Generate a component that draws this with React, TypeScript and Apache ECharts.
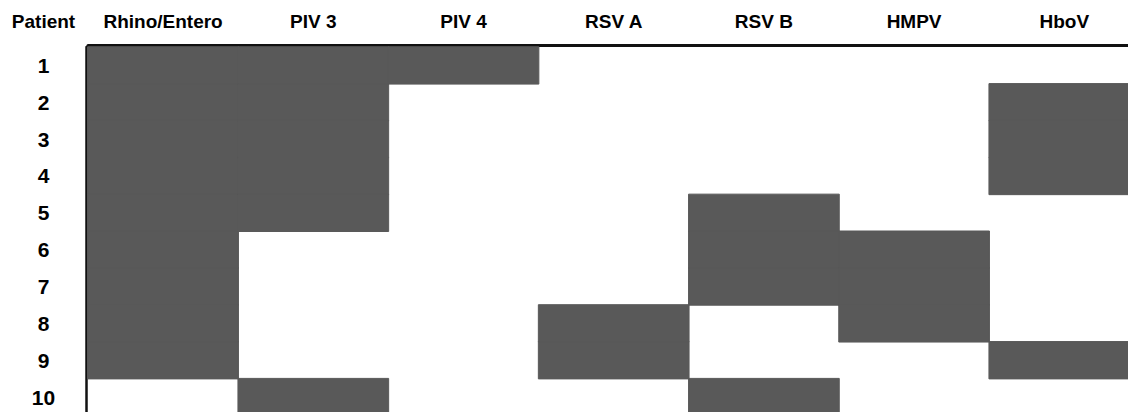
import React, { useEffect, useRef } from "react";
import * as echarts from "echarts";

const patients = ["1", "2", "3", "4", "5", "6", "7", "8", "9", "10"];
const viruses = ["Rhino/Entero", "PIV 3", "PIV 4", "RSV A", "RSV B", "HMPV", "HboV"];

// 1 = positive, 0 = negative, per patient 1..10
const rhinoEntero = [1, 1, 1, 1, 1, 1, 1, 1, 1, 0];
const piv3 = [1, 1, 1, 1, 1, 0, 0, 0, 0, 1];
const piv4 = [1, 0, 0, 0, 0, 0, 0, 0, 0, 0];
const rsvA = [0, 0, 0, 0, 0, 0, 0, 1, 1, 0];
const rsvB = [0, 0, 0, 0, 1, 1, 1, 0, 0, 1];
const hmpv = [0, 0, 0, 0, 0, 1, 1, 1, 0, 0];
const hbov = [0, 1, 1, 1, 0, 0, 0, 0, 1, 0];

const columns = [rhinoEntero, piv3, piv4, rsvA, rsvB, hmpv, hbov];

const FONT = "'Liberation Sans', Arial, Helvetica, sans-serif";
const FILL = "#595959";

export default function App() {
  const ref = useRef<HTMLDivElement>(null);

  useEffect(() => {
    if (!ref.current) return;
    const chart = echarts.init(ref.current, undefined, { renderer: "svg" });

    const data: [number, number, number][] = [];
    columns.forEach((col, xi) => {
      col.forEach((v, yi) => {
        if (v) data.push([xi, yi, v]);
      });
    });

    chart.setOption({
      animation: false,
      backgroundColor: "#ffffff",
      grid: {
        left: 88,
        top: 47,
        width: 1051.4,
        height: 368.5,
        containLabel: false,
      },
      xAxis: {
        type: "category",
        data: viruses,
        position: "top",
        offset: 2,
        axisLine: { show: true, lineStyle: { color: "#111", width: 3 } },
        axisTick: { show: false },
        splitLine: { show: false },
        axisLabel: {
          interval: 0,
          margin: 24,
          verticalAlign: "middle",
          color: "#000",
          fontFamily: FONT,
          fontWeight: "bold",
          fontSize: 19,
        },
      },
      yAxis: {
        type: "category",
        data: patients,
        inverse: true,
        offset: 2,
        axisLine: { show: true, lineStyle: { color: "#111", width: 2.5 } },
        axisTick: { show: false },
        splitLine: { show: false },
        axisLabel: {
          interval: 0,
          margin: 42.5,
          align: "center",
          color: "#000",
          fontFamily: FONT,
          fontWeight: "bold",
          fontSize: 21,
        },
      },
      visualMap: {
        type: "piecewise",
        show: false,
        dimension: 2,
        pieces: [{ value: 1, color: FILL }],
      },
      graphic: [
        {
          type: "text",
          x: 43.5,
          y: 21,
          style: {
            text: "Patient",
            align: "center",
            verticalAlign: "middle",
            fill: "#000",
            font: `bold 19px ${FONT}`,
          },
        },
      ],
      series: [
        {
          type: "heatmap",
          data,
          itemStyle: { color: FILL, borderColor: FILL, borderWidth: 1 },
          emphasis: { disabled: true },
        },
      ],
    });

    return () => chart.dispose();
  }, []);

  return (
    <div
      style={{
        position: "absolute",
        left: 0,
        top: 0,
        width: 1128,
        height: 412,
        overflow: "hidden",
        background: "#fff",
      }}
    >
      <div ref={ref} style={{ width: 1160, height: 430 }} />
    </div>
  );
}
